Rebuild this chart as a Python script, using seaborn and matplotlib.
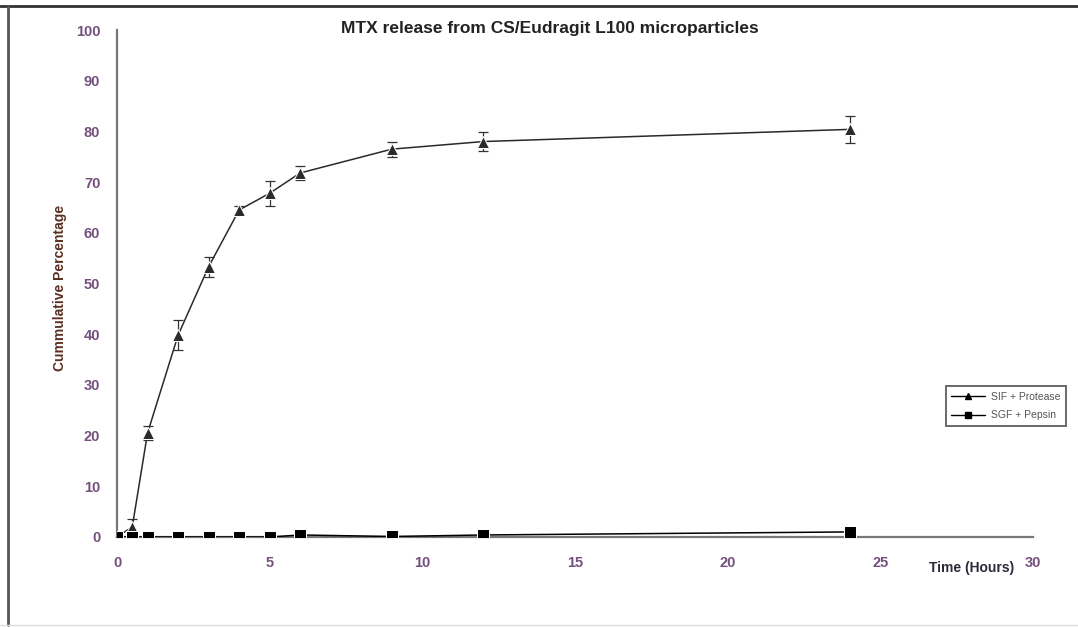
import matplotlib
matplotlib.use("Agg")
import matplotlib.pyplot as plt
import seaborn as sns
import pandas as pd
from matplotlib.lines import Line2D

# sampling times (hours)
hours = [0, 0.5, 1, 2, 3, 4, 5, 6, 9, 12, 24]

# SIF + Protease cumulative release and error
sif_release = [0, 2.0, 20.5, 39.8, 53.3, 64.5, 67.8, 71.8, 76.5, 78.0, 80.4]
sif_error = [0, 1.5, 1.3, 3.0, 2.0, 0.8, 2.5, 1.3, 1.5, 1.8, 2.6]

# SGF + Pepsin cumulative release
sgf_release = [0, 0, 0, 0, 0, 0, 0, 0.4, 0.1, 0.4, 1.0]

series_names = ["SIF + Protease", "SGF + Pepsin"]
x_ticks = [0, 5, 10, 15, 20, 25, 30]
y_ticks = list(range(0, 101, 10))

df = pd.DataFrame({
    "hours": hours * 2,
    "release": sif_release + sgf_release,
    "medium": [series_names[0]] * len(hours) + [series_names[1]] * len(hours),
})

sns.set_style("white")
plt.rcParams["font.family"] = ["Liberation Sans", "DejaVu Sans"]

fig = plt.figure(figsize=(10.78, 6.27), dpi=100)
ax = fig.add_axes([117 / 1078, 1 - 537 / 627, 916 / 1078, 507 / 627])

sns.lineplot(
    data=df, x="hours", y="release", hue="medium", style="medium",
    markers={series_names[0]: "^", series_names[1]: "s"},
    dashes=False, palette={series_names[0]: "#2a2a2a", series_names[1]: "black"},
    markersize=8, linewidth=1.1, ax=ax, legend=False, zorder=3,
)
ax.errorbar(hours, sif_release, yerr=sif_error, fmt="none", ecolor="#333333",
            elinewidth=0.9, capsize=3.5, capthick=0.9, zorder=2)

ax.set_xlim(0, 30)
ax.set_ylim(0, 100)
ax.set_xticks(x_ticks)
ax.set_yticks(y_ticks)
ax.tick_params(axis="both", colors="#7a7a7a", labelcolor="#74507e", labelsize=10.5,
               direction="out", length=4, width=1)
ax.tick_params(axis="x", pad=10)
ax.tick_params(axis="y", pad=8)
for lbl in ax.get_xticklabels() + ax.get_yticklabels():
    lbl.set_fontweight("bold")

for side in ["top", "right"]:
    ax.spines[side].set_visible(False)
for side in ["left", "bottom"]:
    ax.spines[side].set_color("#777777")
    ax.spines[side].set_linewidth(1.6)

ax.set_xlabel("")
ax.set_ylabel("")
fig.text(550 / 1078, 1 - 28 / 627, "MTX release from CS/Eudragit L100 microparticles",
         ha="center", va="center", fontsize=12.5, fontweight="bold", color="#222222")
fig.text(60 / 1078, 1 - 288 / 627, "Cummulative Percentage", rotation=90,
         ha="center", va="center", fontsize=10, fontweight="bold", color="#5a3020")
fig.text(972 / 1078, 1 - 568 / 627, "Time (Hours)", ha="center", va="center",
         fontsize=10, fontweight="bold", color="#2a2a3a")

handles = [
    Line2D([], [], color="black", marker="^", markersize=4, linewidth=1),
    Line2D([], [], color="black", marker="s", markersize=5, linewidth=1),
]
leg = fig.legend(handles, series_names, loc="center", bbox_to_anchor=(1006 / 1078, 1 - 406 / 627),
                 fontsize=7.5, frameon=True, fancybox=False, handlelength=3.2,
                 labelcolor="#555555", borderpad=0.55, labelspacing=0.8, handletextpad=0.6)
leg.get_frame().set_edgecolor("#444444")
leg.get_frame().set_linewidth(1.4)

# outer frame lines
fig.add_artist(Line2D([0, 1], [1 - 6 / 627, 1 - 6 / 627], transform=fig.transFigure,
                      color="#333333", linewidth=2))
fig.add_artist(Line2D([8 / 1078, 8 / 1078], [1 - 6 / 627, 0.003], transform=fig.transFigure,
                      color="#555555", linewidth=2))
fig.add_artist(Line2D([0, 1], [2 / 627, 2 / 627], transform=fig.transFigure,
                      color="#dddddd", linewidth=1))

fig.savefig("out.png", dpi=100)
